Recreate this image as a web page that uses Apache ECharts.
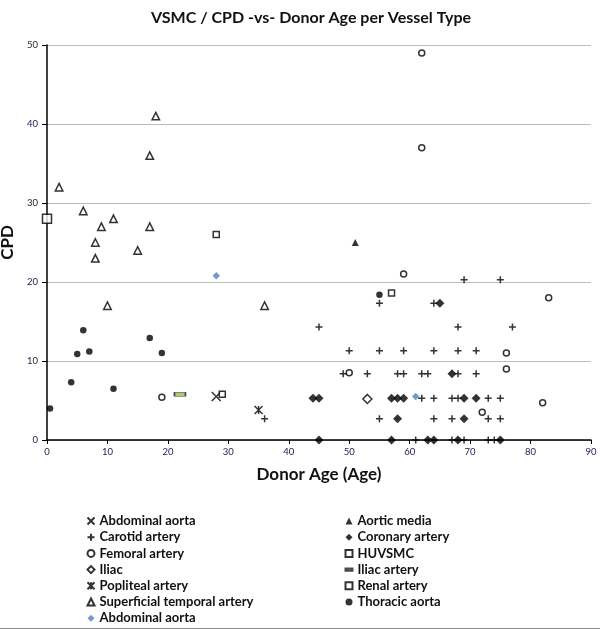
<!DOCTYPE html>
<html>
<head>
<meta charset="utf-8">
<script src="https://cdn.jsdelivr.net/npm/echarts@6/dist/echarts.min.js"></script>
<style>
html,body{margin:0;padding:0;background:#fff;}
#c{width:600px;height:629px;}
</style>
</head>
<body>
<div id="c"></div>
<script>
// ---- data ----
var xTicks = [0, 10, 20, 30, 40, 50, 60, 70, 80, 90];
var yTicks = [0, 10, 20, 30, 40, 50];

var abdominalAorta = [[28, 5.5]];
var aorticMedia = [[51, 25]];
var carotidArtery = [
  [36, 2.7],
  [69, 20.3], [75, 20.3],
  [55, 17.3], [64, 17.3],
  [45, 14.3], [68, 14.3], [77, 14.3],
  [50, 11.3], [55, 11.3], [59, 11.3], [64, 11.3], [68, 11.3], [71, 11.3],
  [49, 8.4], [53, 8.4], [58, 8.4], [59, 8.4], [62, 8.4], [63, 8.4], [68, 8.4], [71, 8.4],
  [62, 5.3], [64, 5.3], [67, 5.3], [68, 5.3], [73, 5.3], [75, 5.3],
  [55, 2.7], [64, 2.7], [67, 2.7], [73, 2.7], [75, 2.7],
  [61, 0], [67, 0], [69, 0], [73, 0], [74, 0]
];
var coronaryArtery = [
  [65, 17.3], [67, 8.4],
  [44, 5.3], [45, 5.3], [57, 5.3], [58, 5.3], [59, 5.3], [69, 5.3], [71, 5.3],
  [58, 2.7], [69, 2.7],
  [45, 0], [57, 0], [63, 0], [64, 0], [68, 0], [75, 0]
];
var femoralArtery = [[19, 5.4], [62, 49], [62, 37], [59, 21], [83, 18], [76, 11], [76, 9], [50, 8.5], [72, 3.5], [82, 4.7]];
var huvsmc = [[0, 28]];
var iliac = [[53, 5.2]];
var iliacArtery = [[22, 5.8]];
var poplitealArtery = [[35, 3.8]];
var renalArtery = [[28, 26], [29, 5.8], [57, 18.6]];
var superficialTemporal = [[2, 32], [6, 29], [8, 25], [8, 23], [9, 27], [10, 17], [11, 28], [15, 24], [17, 36], [17, 27], [18, 41], [36, 17]];
var thoracicAorta = [[0.5, 4], [4, 7.3], [5, 10.9], [6, 13.9], [7, 11.2], [11, 6.5], [17, 12.9], [19, 11], [55, 18.4]];
var abdominalAorta2 = [[28, 20.8], [61, 5.5]];

var seriesNames = ['Abdominal aorta', 'Aortic media', 'Carotid artery', 'Coronary artery', 'Femoral artery', 'HUVSMC', 'Iliac', 'Iliac artery', 'Popliteal artery', 'Renal artery', 'Superficial temporal artery', 'Thoracic aorta', 'Abdominal aorta '];

// ---- styles ----
var BLK = '#000';
var OPEN = {color: '#fff', borderColor: BLK, borderWidth: 1.5};
var FILL = {color: BLK};
var STROKE = {color: 'rgba(0,0,0,0)', borderColor: BLK, borderWidth: 1.5};

var specs = [
  {data: abdominalAorta, symbol: 'path://M0,0L10,10M10,0L0,10', size: 9, style: STROKE},
  {data: aorticMedia, symbol: 'triangle', size: 7, style: FILL},
  {data: carotidArtery, symbol: 'path://M5,0L5,10M0,5L10,5', size: 7, style: STROKE},
  {data: coronaryArtery, symbol: 'diamond', size: 9, style: FILL},
  {data: femoralArtery, symbol: 'circle', size: 6, style: OPEN},
  {data: huvsmc, symbol: 'rect', size: 9, style: OPEN},
  {data: iliac, symbol: 'diamond', size: 9, style: OPEN},
  {data: iliacArtery, symbol: 'rect', size: [11, 4], style: {color: '#9BBB59', borderColor: '#222', borderWidth: 1}},
  {data: poplitealArtery, symbol: 'path://M0,0L10,10M10,0L0,10M5,0L5,10', size: 8, style: STROKE},
  {data: renalArtery, symbol: 'rect', size: 6, style: OPEN},
  {data: superficialTemporal, symbol: 'triangle', size: 7.5, style: OPEN},
  {data: thoracicAorta, symbol: 'circle', size: 6.5, style: FILL},
  {data: abdominalAorta2, symbol: 'diamond', size: 7.5, style: {color: '#4F81BD'}}
];

var series = specs.map(function (s, i) {
  return {
    name: seriesNames[i],
    type: 'scatter',
    data: s.data,
    symbol: s.symbol,
    symbolSize: s.size,
    itemStyle: s.style,
    emphasis: {disabled: true},
    z: 3
  };
});

var legendIcons = {
  'Iliac artery': 'path://M0,0L12,0L12,4L0,4Z'
};
function legendData(names) {
  return names.map(function (n) {
    var o = {name: n};
    if (legendIcons[n]) o.icon = legendIcons[n];
    return o;
  });
}
var leftNames = seriesNames.filter(function (n, i) { return i % 2 === 0; });
var rightNames = seriesNames.filter(function (n, i) { return i % 2 === 1; });

var legendText = {fontFamily: 'Lato', fontWeight: 'bold', fontSize: 13, color: '#111', lineHeight: 16};
var legendCommon = {
  orient: 'vertical',
  itemWidth: 7,
  itemHeight: 7,
  itemGap: 0.2,
  padding: 0,
  selectedMode: false,
  textStyle: legendText
};

var chart = echarts.init(document.getElementById('c'), null, {renderer: 'canvas'});
chart.setOption({
  backgroundColor: '#fff',
  animation: false,
  title: {
    text: 'VSMC / CPD -vs- Donor Age per Vessel Type',
    left: 306,
    textAlign: 'center',
    top: 5,
    textStyle: {fontFamily: 'Lato', fontWeight: 'bold', fontSize: 16, color: '#111'}
  },
  grid: {left: 47, right: 9, top: 45, bottom: 189, containLabel: false, outerBoundsMode: 'none'},
  xAxis: {
    type: 'value',
    min: xTicks[0],
    max: xTicks[xTicks.length - 1],
    interval: 10,
    name: 'Donor Age (Age)',
    nameLocation: 'middle',
    nameGap: 26,
    nameTextStyle: {fontFamily: 'Lato', fontWeight: 'bold', fontSize: 17, color: '#111'},
    axisLine: {lineStyle: {color: BLK, width: 1.5}},
    axisTick: {show: true, length: 4, lineStyle: {color: BLK}},
    axisLabel: {fontFamily: 'Lato', fontSize: 9.5, color: '#1c1c44', margin: 7},
    splitLine: {show: false}
  },
  yAxis: {
    type: 'value',
    min: yTicks[0],
    max: yTicks[yTicks.length - 1],
    interval: 10,
    name: 'CPD',
    nameLocation: 'middle',
    nameRotate: 90,
    nameGap: 21,
    nameTextStyle: {fontFamily: 'Lato', fontWeight: 'bold', fontSize: 17, color: '#111'},
    axisLine: {show: true, lineStyle: {color: BLK, width: 1.5}},
    axisTick: {show: true, length: 5, lineStyle: {color: BLK}},
    axisLabel: {fontFamily: 'Lato', fontSize: 9.5, color: '#1c1c44', margin: 9},
    splitLine: {show: true, lineStyle: {color: '#bdbdbd', width: 1}}
  },
  legend: [
    Object.assign({left: 86.5, top: 513, data: legendData(leftNames)}, legendCommon),
    Object.assign({left: 344.5, top: 513, data: legendData(rightNames)}, legendCommon)
  ],
  graphic: [{
    type: 'line',
    shape: {x1: 0, y1: 628.5, x2: 600, y2: 628.5},
    style: {stroke: '#8c8c8c', lineWidth: 1},
    silent: true
  }],
  series: series
});
</script>
</body>
</html>
